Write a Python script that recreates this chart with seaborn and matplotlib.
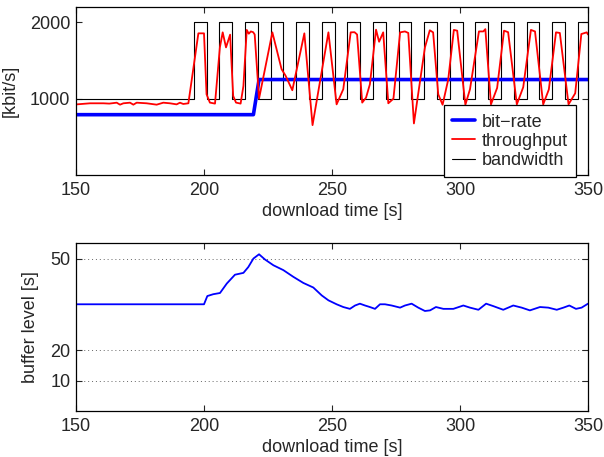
import numpy as np
import pandas as pd
import matplotlib
matplotlib.use("Agg")
import matplotlib.pyplot as plt
import seaborn as sns

# ---- data -------------------------------------------------------------
# bandwidth limit (kbit/s), value holds from each change time onwards
bw_time = [150, 196, 201, 206, 211, 216, 221, 226, 231, 236, 241, 246, 251,
           256, 261, 266, 271, 276, 281, 286, 291, 296, 301, 306, 311, 316,
           321, 326, 331, 336, 341, 346, 350]
bw_rate = [1000, 2000, 1000, 2000, 1000, 2000, 1000, 2000, 1000, 2000, 1000,
           2000, 1000, 2000, 1000, 2000, 1000, 2000, 1000, 2000, 1000, 2000,
           1000, 2000, 1000, 2000, 1000, 2000, 1000, 2000, 1000, 2000, 2000]

# selected video bit-rate (kbit/s)
br_time = [150, 219.3, 221.5, 350]
br_rate = [790, 790, 1250, 1250]

# measured throughput (kbit/s)
tp_time = [150.3, 155.5, 160.7, 163.0, 165.9, 167.2, 168.5, 171.1, 172.4,
           173.7, 177.6, 181.5, 184.1, 186.7, 189.3, 190.6, 191.9, 193.9,
           197.8, 200.0, 201.0, 202.3, 204.3, 206.2, 207.3, 208.6, 210.2,
           211.4, 212.5, 214.3, 215.4, 216.7, 217.5, 218.3, 219.2, 219.8,
           221.5, 226.7, 230.3, 231.9, 234.5, 239.2, 242.4, 248.6, 251.8,
           254.4, 257.3, 258.8, 259.8, 261.8, 263.3, 264.8, 267.2, 268.4,
           270.0, 272.0, 274.0, 276.6, 278.5, 279.8, 282.0, 286.3, 288.2,
           289.5, 291.5, 293.2, 295.4, 297.6, 298.9, 302.1, 303.9, 307.4,
           309.1, 309.9, 312.1, 314.5, 317.2, 318.8, 322.2, 324.7, 327.7,
           329.3, 332.5, 334.7, 337.5, 339.0, 342.4, 345.0, 347.4, 349.5,
           350.0]
tp_rate = [925, 939, 939, 935, 947, 921, 939, 947, 921,
           947, 939, 921, 947, 939, 925, 947, 930, 939,
           1855, 1855, 1057, 948, 935, 1671, 1868, 1671, 1838,
           1035, 948, 935, 1166, 1900, 1850, 1880, 1870, 1840,
           1000, 1868, 1386, 1298, 1110, 1855, 653, 1868, 925,
           1123, 1868, 1870, 1840, 948, 1013, 1188, 1903, 1745,
           1868, 939, 1000, 1868, 1880, 1860, 675, 1671, 1895,
           1868, 1057, 920, 1250, 1900, 1890, 920, 1123, 1880,
           1880, 1910, 925, 1140, 1890, 1870, 925, 1150, 1900,
           1880, 925, 1120, 1868, 1860, 925, 1070, 1846, 1868,
           1840]

# client buffer level (s)
buf_time = [150, 200.0, 201.3, 203.6, 206.25, 208.9, 212.1, 215.4, 217.3,
            219.3, 221.5, 223.8, 227.1, 231.0, 234.9, 238.8, 242.7, 246.0,
            248.6, 251.8, 254.4, 257.0, 259.0, 260.9, 262.9, 264.8, 266.8,
            268.75, 270.7, 273.3, 276.6, 278.5, 281.1, 283.7, 286.3, 288.3,
            290.6, 293.5, 297.4, 301.3, 303.9, 307.2, 310.2, 313.0, 316.9,
            320.8, 324.1, 327.3, 331.25, 334.5, 337.8, 340.4, 342.7, 345.3,
            347.5, 350.0]
buf_level = [35.0, 35.0, 37.7, 38.3, 38.7, 41.8, 44.7, 45.3, 47.2,
             50.0, 51.4, 49.7, 47.8, 46.2, 44.0, 42.0, 40.5, 37.9,
             36.3, 35.0, 34.1, 33.5, 34.6, 35.2, 34.6, 34.1, 33.5,
             35.0, 35.0, 34.6, 33.9, 34.6, 35.2, 33.9, 32.8, 33.0,
             34.1, 33.5, 33.5, 34.6, 33.9, 33.2, 35.2, 34.4, 33.2,
             34.6, 33.9, 33.0, 34.1, 33.9, 33.2, 33.9, 34.6, 33.5,
             33.9, 35.2]

x_ticks = [150, 200, 250, 300, 350]
rate_ticks = [1000, 2000]
buf_ticks = [10, 20, 50]

# ---- style ------------------------------------------------------------
sns.set_style("ticks")
plt.rcParams["font.family"] = ["Liberation Sans", "DejaVu Sans"]
plt.rcParams["font.size"] = 13
plt.rcParams["axes.linewidth"] = 0.9
plt.rcParams["axes.edgecolor"] = "black"

fig = plt.figure(figsize=(6.04, 4.57), dpi=100)
ax1 = fig.add_axes([76 / 604, 1 - 175 / 457, 512 / 604, 168 / 457])
ax2 = fig.add_axes([76 / 604, 1 - 411 / 457, 512 / 604, 167.7 / 457])

bw = pd.DataFrame({"t": bw_time, "v": bw_rate})
br = pd.DataFrame({"t": br_time, "v": br_rate})
tp = pd.DataFrame({"t": tp_time, "v": tp_rate})
buf = pd.DataFrame({"t": buf_time, "v": buf_level})

# ---- top: rates -------------------------------------------------------
sns.lineplot(data=bw, x="t", y="v", ax=ax1, color="black", linewidth=0.8,
             drawstyle="steps-post", estimator=None, label="bandwidth")
sns.lineplot(data=br, x="t", y="v", ax=ax1, color="#0000ff", linewidth=2.6,
             estimator=None, label="bit\u2212rate")
sns.lineplot(data=tp, x="t", y="v", ax=ax1, color="#ff0000", linewidth=1.3,
             estimator=None, label="throughput")

ax1.set_xlim(150, 350)
ax1.set_ylim(0, 2200)
ax1.set_xticks(x_ticks)
ax1.set_yticks(rate_ticks)
ax1.set_xlabel("download time [s]", labelpad=3)
ax1.set_ylabel("[kbit/s]", labelpad=8)

handles, labels = ax1.get_legend_handles_labels()
order = [labels.index("bit\u2212rate"), labels.index("throughput"),
         labels.index("bandwidth")]
leg = ax1.legend([handles[i] for i in order], [labels[i] for i in order],
                 loc="lower right", bbox_to_anchor=(500 / 512, -0.012),
                 frameon=True, fancybox=False, framealpha=1,
                 edgecolor="black", handlelength=1.3, handletextpad=0.35,
                 labelspacing=0.12, borderpad=0.45, borderaxespad=0,
                 fontsize=13)
leg.get_frame().set_linewidth(0.9)

# ---- bottom: buffer ---------------------------------------------------
sns.lineplot(data=buf, x="t", y="v", ax=ax2, color="#0000ff", linewidth=1.3,
             estimator=None)
ax2.set_xlim(150, 350)
ax2.set_ylim(0, 55)
ax2.set_xticks(x_ticks)
ax2.set_yticks(buf_ticks)
ax2.yaxis.grid(True, linestyle=(0, (1, 3)), color="#666666", linewidth=0.7)
ax2.xaxis.grid(False)
ax2.set_xlabel("download time [s]", labelpad=3)
ax2.set_ylabel("buffer level [s]", labelpad=8)

for ax in (ax1, ax2):
    ax.tick_params(direction="in", top=True, right=True, length=4,
                   width=0.8, labelsize=13, pad=5)
    ax.tick_params(axis="y", pad=4)
    for s in ax.spines.values():
        s.set_visible(True)
        s.set_color("black")

fig.savefig("out.png", dpi=100)
